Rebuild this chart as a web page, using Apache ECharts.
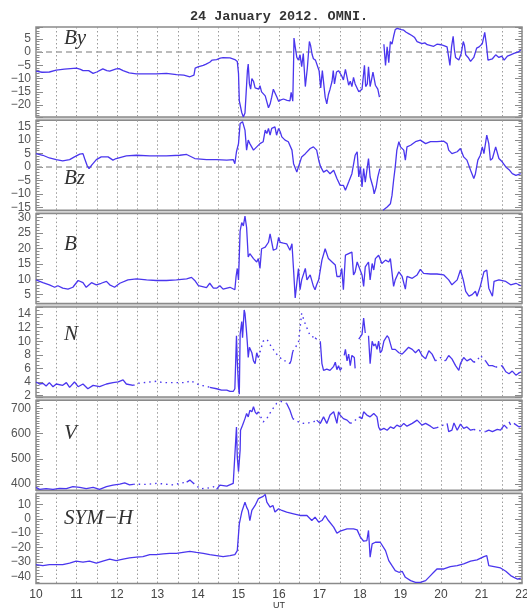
<!DOCTYPE html>
<html><head><meta charset="utf-8">
<script src="https://cdn.jsdelivr.net/npm/echarts@6/dist/echarts.min.js"></script>
<style>html,body{margin:0;padding:0;background:#fff}#c{width:527px;height:609px}</style>
</head><body><div id="c"></div>
<script>
// ---- data (time in UT hours, value) ----
const hourTicks = [10,11,12,13,14,15,16,17,18,19,20,21,22];

const byData = [[10.00,-7.2],[10.15,-7.6],[10.33,-7.5],[10.5,-6.8],[10.7,-6.4],[11.0,-6.0],[11.1,-6.5],[11.16,-7.0],[11.3,-7.0],[11.41,-8.0],[11.5,-7.5],[11.65,-6.3],[11.75,-7.0],[11.82,-7.2],[11.98,-6.3],[12.05,-6.2],[12.15,-7.0],[12.3,-7.8],[12.48,-8.2],[12.7,-8.2],[12.97,-8.2],[13.22,-8.0],[13.47,-8.5],[13.65,-8.7],[13.80,-9.3],[13.9,-8.7],[13.93,-6.0],[14.0,-5.6],[14.13,-5.0],[14.2,-4.5],[14.29,-3.8],[14.35,-3.0],[14.46,-2.8],[14.55,-2.3],[14.62,-2.1],[14.79,-2.2],[14.91,-2.8],[14.97,-3.5],[15.0,-8],[15.02,-18.4],[15.08,-22.8],[15.12,-24.5],[15.16,-23],[15.19,-15],[15.22,-7],[15.24,-4.5],[15.27,-12],[15.3,-14],[15.33,-10],[15.37,-11],[15.41,-13.5],[15.45,-13.0],[15.5,-14],[15.53,-12.7],[15.57,-15],[15.61,-15.5],[15.66,-16.5],[15.70,-17],[15.74,-21],[15.78,-19.6],[15.82,-17],[15.86,-14],[15.90,-13.5],[15.95,-17],[15.99,-18.6],[16.05,-18],[16.11,-17.7],[16.2,-18.2],[16.27,-18.4],[16.3,-15.2],[16.34,-18.5],[16.36,-4],[16.37,5.3],[16.40,2],[16.44,-2],[16.48,-3],[16.52,-1],[16.56,-5.5],[16.60,-0.5],[16.65,-13],[16.70,-6],[16.75,4],[16.78,2.5],[16.82,-1],[16.85,-2.5],[16.9,-3],[16.93,-3.5],[16.99,-7],[17.03,-13.5],[17.07,-7],[17.14,-17],[17.18,-19.5],[17.22,-16],[17.26,-14],[17.31,-11],[17.34,-7],[17.37,-12],[17.42,-7.5],[17.47,-7],[17.55,-9],[17.59,-10.5],[17.64,-6.5],[17.68,-7],[17.72,-12.5],[17.76,-11],[17.80,-13],[17.84,-9.5],[17.88,-12],[17.92,-11.5],[17.97,-15],[18.05,-14],[18.11,-5],[18.14,-13],[18.18,-12],[18.21,-5.5],[18.25,-13],[18.29,-10],[18.32,-7.5],[18.38,-12.5],[18.44,-14],[18.48,-17],[18.53,null],[18.59,3],[18.63,-5],[18.67,2],[18.71,-4],[18.75,4],[18.79,3],[18.83,6],[18.87,8.5],[18.92,9],[18.96,9.5],[19.02,8.5],[19.08,8.3],[19.14,7.5],[19.20,7],[19.28,6.3],[19.35,5.5],[19.41,4],[19.53,3.2],[19.6,3.5],[19.66,2.8],[19.75,2.5],[19.82,2.2],[19.90,3.0],[20.0,2.8],[20.07,2.5],[20.15,2.0],[20.19,-2],[20.22,-5],[20.26,2],[20.30,6],[20.33,1],[20.36,-2],[20.44,-3],[20.5,-0.5],[20.55,4],[20.58,2.5],[20.61,-1],[20.67,-2],[20.73,-3.5],[20.81,-2],[20.88,1.5],[20.94,2],[21.02,3.2],[21.08,7.5],[21.12,3],[21.16,-3],[21.27,-2.5],[21.35,-1],[21.43,-2],[21.5,-1.5],[21.56,-3],[21.64,-1.5],[21.72,-1],[21.80,-0.5],[21.9,0],[21.97,0.8]];

const bzData = [[10.00,4.9],[10.17,4.3],[10.33,3.3],[10.50,2.7],[10.66,2.2],[10.83,2.7],[10.95,3.7],[11.08,4.7],[11.16,4.9],[11.20,3.1],[11.26,0.6],[11.31,-0.6],[11.37,0.6],[11.49,2.7],[11.61,3.7],[11.78,3.7],[11.90,2.5],[11.98,3.1],[12.23,4.1],[12.48,4.3],[12.81,4.1],[13.22,4.1],[13.55,4.3],[13.72,4.6],[13.92,3.1],[14.21,2.7],[14.46,2.7],[14.71,2.5],[14.87,2.7],[14.91,1.2],[14.95,5.6],[15.00,8.6],[15.04,16],[15.10,16.7],[15.16,13.6],[15.20,6.2],[15.24,9.9],[15.28,8.6],[15.37,6.2],[15.45,7.4],[15.53,8.6],[15.61,9.3],[15.66,13.6],[15.70,12.3],[15.74,14.2],[15.78,11.7],[15.82,14.2],[15.90,14.8],[15.94,11.7],[15.99,14.2],[16.03,13],[16.07,11.1],[16.15,9.9],[16.23,9.3],[16.32,6.2],[16.36,1.2],[16.44,-1.9],[16.48,0],[16.56,3.7],[16.65,4.9],[16.77,6.8],[16.85,7.4],[16.93,6.2],[16.99,1.9],[17.03,0],[17.10,-1.9],[17.18,-1.2],[17.26,-2.5],[17.35,-1.2],[17.43,-4.3],[17.51,-6.8],[17.59,-6.8],[17.64,-8.6],[17.72,-5.6],[17.80,-2.5],[17.88,4.3],[17.93,5.6],[17.97,-3.7],[18.01,0],[18.05,-7.4],[18.09,-0.6],[18.13,-5.6],[18.21,3.1],[18.25,-3.7],[18.32,-7.4],[18.35,-9.9],[18.40,-7.4],[18.44,-3.7],[18.49,-0.6],[18.53,null],[18.57,-16],[18.67,-14.8],[18.75,-13.6],[18.79,-10.5],[18.83,-4.9],[18.87,0],[18.91,6.2],[18.96,9.3],[19.00,7.4],[19.08,6.2],[19.12,2.5],[19.16,7.4],[19.25,8],[19.37,9.3],[19.49,9.9],[19.62,8.6],[19.74,9.3],[19.90,9.3],[20.07,9.5],[20.15,8.6],[20.19,6.2],[20.27,4.9],[20.40,5.6],[20.48,6.8],[20.56,3.7],[20.64,2.5],[20.73,-1.2],[20.81,-4.3],[20.85,-2.5],[20.91,2.5],[20.97,4.3],[21.02,7.4],[21.06,4.9],[21.13,11.7],[21.18,8.6],[21.22,2.5],[21.27,3.1],[21.35,7.4],[21.43,3.1],[21.51,1.9],[21.60,0],[21.68,-1],[21.76,-2.5],[21.85,-3.1],[21.97,-2.5]];

const bData = [[10.00,9.8],[10.17,8.9],[10.33,8.2],[10.46,7.4],[10.54,7.9],[10.66,7.1],[10.79,6.8],[10.91,7.4],[11.04,9.6],[11.16,8.9],[11.24,7.4],[11.37,8.9],[11.49,8.2],[11.61,8.7],[11.74,9.3],[11.82,8.2],[11.94,7.4],[12.07,8.7],[12.27,9.8],[12.48,10.1],[12.73,9.8],[12.97,9.6],[13.22,9.6],[13.47,9.8],[13.72,10.1],[13.84,10.6],[13.92,9.6],[14.01,7.9],[14.21,7.3],[14.29,8.7],[14.38,7.1],[14.46,7.1],[14.54,7.9],[14.62,6.8],[14.79,7.4],[14.91,6.6],[14.94,10.9],[14.97,13.5],[15.00,9.8],[15.04,25.7],[15.08,28.4],[15.12,27.3],[15.16,30.5],[15.20,26.8],[15.24,17.2],[15.28,18.3],[15.37,16.7],[15.45,15.6],[15.49,16.7],[15.53,13.5],[15.57,19.9],[15.66,20.4],[15.74,22],[15.78,24.7],[15.82,24.1],[15.86,19.4],[15.94,19.9],[15.99,23.6],[16.03,22],[16.11,21.7],[16.19,21.5],[16.27,19.4],[16.32,21.5],[16.36,13],[16.40,3.9],[16.44,8.7],[16.48,13.5],[16.52,6.6],[16.56,9.8],[16.65,13.5],[16.69,9.8],[16.77,11.4],[16.85,7.7],[16.89,6.6],[16.93,8.2],[16.98,9.8],[17.06,16.2],[17.14,19.9],[17.22,16.7],[17.31,15.6],[17.39,14.6],[17.43,10.9],[17.51,10.9],[17.55,13.5],[17.59,6.6],[17.64,17.8],[17.72,18.3],[17.80,18.8],[17.84,11.4],[17.88,12.4],[17.93,15.6],[17.97,16.2],[18.05,11.4],[18.09,7.7],[18.13,14],[18.21,15.6],[18.25,9.8],[18.30,15.1],[18.34,13],[18.38,16.7],[18.46,17.8],[18.50,18.3],[18.54,15.1],[18.63,16.2],[18.71,15.6],[18.75,16.7],[18.83,7.7],[18.87,9.8],[18.96,12.4],[19.04,10.9],[19.12,6.8],[19.16,10.9],[19.29,10.3],[19.41,11.4],[19.49,13.2],[19.57,11.9],[19.74,11.7],[19.90,11.7],[20.07,11.4],[20.19,9.8],[20.27,8.2],[20.40,9.8],[20.48,13],[20.55,9.8],[20.61,6.1],[20.69,4.5],[20.77,5],[20.85,6.1],[20.89,4.5],[20.97,7.7],[21.06,12.4],[21.13,13],[21.18,7.1],[21.27,4.5],[21.31,9.3],[21.43,9.8],[21.60,9.3],[21.72,8.2],[21.85,8.7],[21.97,7.9]];

const nData = [[10.00,4.0],[10.09,3.7],[10.17,3.8],[10.25,3.4],[10.33,3.9],[10.42,3.3],[10.50,3.7],[10.66,3.5],[10.75,3.9],[10.83,3.2],[10.95,4.0],[11.04,3.3],[11.16,3.7],[11.28,3.0],[11.41,3.5],[11.57,3.3],[11.74,3.7],[11.90,3.9],[12.03,4.0],[12.15,4.3],[12.23,3.7],[12.40,3.5],[12.41,null],[14.28,null],[14.29,3.2],[14.46,3.0],[14.58,2.8],[14.71,2.8],[14.79,2.6],[14.87,2.6],[14.91,3.0],[14.95,10.8],[14.97,7.1],[15.00,3.3],[15.02,2.2],[15.04,11],[15.08,12.9],[15.10,10.5],[15.14,14.6],[15.16,14.1],[15.19,12],[15.22,9.6],[15.24,7.6],[15.27,9.1],[15.33,8.3],[15.37,7.1],[15.41,6.7],[15.45,8.3],[15.49,7.6],[15.5,null],[16.26,null],[16.27,6.7],[16.30,7.2],[16.34,8.5],[16.35,null],[16.88,null],[16.89,10.5],[16.93,10.3],[16.97,null],[17.02,10.0],[17.06,6.7],[17.10,5.7],[17.18,5.9],[17.26,5.7],[17.35,6.3],[17.39,6.9],[17.43,5.8],[17.47,6.4],[17.51,5.7],[17.55,6.1],[17.58,null],[17.61,7.9],[17.64,8.8],[17.68,7.1],[17.72,8.1],[17.76,6.4],[17.80,7.9],[17.86,7.6],[17.88,6.0],[17.92,null],[17.97,10.3],[18.05,11],[18.09,13.4],[18.13,11.2],[18.17,null],[18.21,10.8],[18.25,6.7],[18.30,10],[18.34,9.3],[18.38,9.6],[18.42,8.8],[18.46,10],[18.50,8.3],[18.54,8.6],[18.59,10],[18.67,10.8],[18.71,10.5],[18.79,8.8],[18.87,8.8],[18.96,8.3],[19.04,8.1],[19.12,8.6],[19.20,9.1],[19.29,8.8],[19.37,8.3],[19.45,8.8],[19.53,7.9],[19.62,7.4],[19.70,8.6],[19.78,8.1],[19.86,7.1],[19.87,null],[20.10,null],[20.11,7.1],[20.19,7.9],[20.27,7.4],[20.36,6.4],[20.44,5.7],[20.48,6.7],[20.56,7.6],[20.64,7.1],[20.73,7.4],[20.81,6.9],[20.82,null],[21.09,null],[21.10,7.1],[21.18,6.4],[21.27,6.4],[21.35,6.2],[21.36,null],[21.50,null],[21.51,6.4],[21.60,5.5],[21.68,5.2],[21.76,5.6],[21.85,5.0],[21.97,5.5]];
const nSparse = [[12.40,3.5],[12.52,3.8],[12.81,4.0],[12.97,4.1],[13.14,3.9],[13.39,3.9],[13.55,3.9],[13.72,3.9],[13.80,4.2],[13.92,3.9],[14.05,3.5],[14.21,3.4],[14.29,3.2],[14.3,null],[15.48,null],[15.49,7.6],[15.61,10],[15.70,10.3],[15.82,9.1],[15.94,8.1],[16.11,7.1],[16.19,7.1],[16.27,6.7],[16.3,null],[16.33,null],[16.34,8.5],[16.48,9.8],[16.56,14.1],[16.65,12.5],[16.77,10.8],[16.89,10.5],[16.9,null],[19.85,null],[19.86,7.1],[19.99,7.6],[20.11,7.1],[20.12,null],[20.80,null],[20.81,6.9],[20.89,7.1],[20.97,7.9],[21.10,7.1],[21.11,null],[21.34,null],[21.35,6.2],[21.43,6.2],[21.51,6.4]];

const vData = [[10.00,387],[10.09,379],[10.25,382],[10.42,379],[10.58,383],[10.75,382],[10.91,390],[11.08,387],[11.24,382],[11.41,387],[11.57,379],[11.74,390],[11.90,396],[12.07,400],[12.19,405],[12.31,397],[12.40,399],[12.41,null],[13.71,null],[13.72,408],[13.80,416],[13.88,405],[13.89,null],[14.45,null],[14.46,379],[14.54,396],[14.71,392],[14.87,403],[14.91,405],[14.95,627],[14.97,508],[15.00,449],[15.02,442],[15.04,535],[15.05,614],[15.10,634],[15.16,660],[15.20,680],[15.24,667],[15.28,693],[15.33,687],[15.37,707],[15.41,687],[15.45,678],[15.49,687],[15.5,null],[16.18,null],[16.19,720],[16.27,693],[16.34,660],[16.35,null],[16.92,null],[16.93,654],[17.02,641],[17.10,667],[17.18,641],[17.26,674],[17.35,687],[17.43,641],[17.47,687],[17.51,674],[17.59,660],[17.68,654],[17.76,641],[17.77,null],[17.96,null],[17.97,667],[18.05,660],[18.09,687],[18.17,674],[18.25,667],[18.34,680],[18.42,667],[18.46,627],[18.50,614],[18.59,621],[18.67,614],[18.75,627],[18.83,621],[18.91,634],[19.00,627],[19.08,641],[19.16,630],[19.29,641],[19.41,654],[19.45,647],[19.53,634],[19.62,641],[19.74,630],[19.82,621],[19.90,624],[19.91,null],[20.14,null],[20.15,641],[20.19,608],[20.27,614],[20.32,643],[20.40,614],[20.48,638],[20.56,621],[20.64,627],[20.73,614],[20.81,617],[20.82,null],[21.09,null],[21.10,608],[21.18,614],[21.27,608],[21.39,617],[21.47,614],[21.56,634],[21.64,621],[21.66,null],[21.68,647],[21.72,635],[21.76,null],[21.80,641],[21.93,627],[21.97,630]];
const vSparse = [[12.40,399],[12.48,400],[12.73,399],[12.97,403],[13.14,401],[13.39,397],[13.55,403],[13.72,408],[13.73,null],[13.87,null],[13.88,405],[14.05,382],[14.21,383],[14.38,390],[14.46,379],[14.47,null],[15.48,null],[15.49,687],[15.61,647],[15.70,660],[15.82,693],[15.94,720],[16.05,728],[16.19,720],[16.2,null],[16.33,null],[16.34,660],[16.48,647],[16.60,641],[16.73,643],[16.85,647],[16.93,654],[16.94,null],[17.75,null],[17.76,641],[17.84,647],[17.97,667],[17.98,null],[19.89,null],[19.90,624],[19.99,630],[20.15,641],[20.16,null],[20.80,null],[20.81,617],[20.97,612],[21.10,608]];

const symhData = [[10.00,-31.9],[10.17,-32.6],[10.33,-31.9],[10.50,-31.9],[10.66,-31.9],[10.83,-30.9],[10.99,-29.5],[11.16,-30.2],[11.32,-29.5],[11.49,-30.9],[11.65,-29.5],[11.82,-28.1],[11.98,-29.1],[12.15,-28.1],[12.31,-27.2],[12.48,-26.7],[12.64,-26.3],[12.81,-24.9],[12.97,-24.9],[13.14,-24.4],[13.30,-24],[13.47,-24],[13.63,-23.3],[13.80,-22.6],[13.96,-23.3],[14.13,-24],[14.29,-24.9],[14.46,-25.6],[14.62,-26.3],[14.79,-25.6],[14.91,-24.9],[14.97,-22.1],[15.02,-3.5],[15.08,4.7],[15.16,11.6],[15.20,8.1],[15.24,5.8],[15.28,-1.2],[15.33,5.8],[15.41,9.3],[15.49,14],[15.53,12.8],[15.61,15.6],[15.66,17],[15.70,11.6],[15.78,8.1],[15.85,9.3],[15.90,4.7],[15.99,7],[16.07,5.8],[16.19,4.7],[16.36,3.5],[16.52,2.3],[16.69,2.3],[16.81,-1.2],[16.89,1.2],[16.98,-2.3],[17.06,-1.2],[17.14,2.3],[17.22,-1.2],[17.35,-5.8],[17.43,-10],[17.51,-8.6],[17.68,-7],[17.84,-7],[17.93,-7.7],[18.01,-12.8],[18.09,-15.6],[18.17,-15.1],[18.21,-8.1],[18.25,-26.7],[18.30,-17.4],[18.38,-16.3],[18.50,-16.3],[18.63,-22.1],[18.71,-29.1],[18.79,-32.6],[18.87,-36],[18.96,-37.2],[19.04,-36.5],[19.12,-40.7],[19.25,-43],[19.37,-44.2],[19.49,-44.2],[19.62,-43],[19.74,-39.5],[19.82,-37.2],[19.90,-34.9],[20.07,-34.9],[20.23,-33.3],[20.40,-32.6],[20.56,-31.4],[20.73,-29.5],[20.89,-28.6],[21.06,-26.3],[21.13,-25.6],[21.18,-32.6],[21.31,-33.3],[21.47,-34.2],[21.60,-36.5],[21.72,-39.5],[21.80,-40.7],[21.89,-41.9],[21.97,-41.2]];

const panelNames = ['By','Bz','B','N','V','SYM\u2212H'];
const yMins = [-24.5,-16,2.1,1.8,376,-45];
const yMaxs = [9.5,17.2,31.3,15.05,733,17.6];
const ySteps = [5,5,5,2,100,10];
const yMinorSplits = [5,5,5,4,10,5];
const mainSeries = [byData,bzData,bData,nData,vData,symhData];
const sparseSeries = [null,null,null,nSparse,vSparse,null];
const zeroLine = [true,true,false,false,false,false];
const title = '24 January 2012. OMNI.';

// ---- layout ----
const LINE = '#4a36ee';
const FRAME = '#8a8a8a';
const GL = 36, GW = 486, GTOP = 27, GSTEP = 93.3, GH = 90;
const labelPos = [[64,40],[64,180],[64,246],[64,336],[64,435],[64,520]];

const grids = [], xAxes = [], yAxes = [], series = [], graphics = [];
for (let i = 0; i < 6; i++) {
  const last = i === 5;
  grids.push({left: GL, top: GTOP + i*GSTEP, width: GW, height: GH, show: true,
    containLabel: false, outerBoundsMode: 'none',
    borderColor: FRAME, borderWidth: 1.5, backgroundColor: '#fff'});
  xAxes.push({type: 'value', gridIndex: i, min: hourTicks[0], max: hourTicks[hourTicks.length-1], interval: 0.5,
    axisLine: {show: false}, axisTick: {show: false},
    splitLine: {show: true, lineStyle: {color: '#9a9a9a', width: 1, type: [1.5, 2.5]}},
    axisLabel: {show: last, margin: 5, color: '#444', fontSize: 12, fontFamily: 'Liberation Sans',
      formatter: v => (Math.abs(v - Math.round(v)) < 1e-6 ? String(Math.round(v)) : '')},
    name: last ? 'UT' : '', nameLocation: 'middle', nameGap: 18,
    nameTextStyle: {color: '#333', fontSize: 9, fontFamily: 'Liberation Sans'}});
  const step = ySteps[i];
  const fmt = v => {
    const r = v/step;
    if (Math.abs(r - Math.round(r)) > 1e-6) return '';
    return String(Math.round(v)).replace('-', '\u2212');
  };
  const base = {type: 'value', gridIndex: i, min: yMins[i], max: yMaxs[i], minInterval: step, maxInterval: step,
    axisLine: {show: false}, splitLine: {show: false},
    axisTick: {show: true, inside: true, length: 7, lineStyle: {color: FRAME, width: 1}},
    minorTick: {show: true, splitNumber: yMinorSplits[i], length: 3.5, lineStyle: {color: FRAME, width: 1}}};
  yAxes.push(Object.assign({}, base, {position: 'left',
    axisLabel: {show: true, margin: 5, color: '#555', fontSize: 12, fontFamily: 'Liberation Sans', formatter: fmt}}));
  yAxes.push(Object.assign({}, base, {position: 'right', axisLabel: {show: false}}));
  const s = {type: 'line', xAxisIndex: i, yAxisIndex: 2*i, data: mainSeries[i], showSymbol: false,
    connectNulls: false, lineStyle: {color: LINE, width: 1.3}, z: 3};
  if (zeroLine[i]) {
    s.markLine = {silent: true, symbol: 'none', label: {show: false},
      lineStyle: {color: '#a5a5a5', type: [6, 4], width: 1.5}, data: [{yAxis: 0}], z: 2};
  }
  series.push(s);
  if (sparseSeries[i]) {
    series.push({type: 'line', xAxisIndex: i, yAxisIndex: 2*i, data: sparseSeries[i], showSymbol: false,
      connectNulls: false, lineStyle: {color: LINE, width: 1.4, type: [1.5, 4]}, z: 3});
  }
  graphics.push({type: 'text', left: labelPos[i][0], top: labelPos[i][1] - 12, z: 10,
    style: {text: panelNames[i], font: 'italic 21px "Liberation Serif"', fill: '#333'}});
}
// light band behind the panel stack (shows in the gaps between panels)
graphics.push({type: 'rect', z: -10, shape: {x: GL, y: GTOP, width: GW, height: 5*GSTEP + GH},
  style: {fill: '#d4d4d4'}});
graphics.push({type: 'text', x: GL + GW/2, y: 17,
  style: {text: title, font: 'bold 13.5px "Liberation Mono"', fill: '#333', textAlign: 'center', textVerticalAlign: 'middle'}});

const chart = echarts.init(document.getElementById('c'), null, {renderer: 'canvas'});
chart.setOption({animation: false, backgroundColor: '#fff', grid: grids, xAxis: xAxes, yAxis: yAxes,
  series: series, graphic: graphics});
</script></body></html>
